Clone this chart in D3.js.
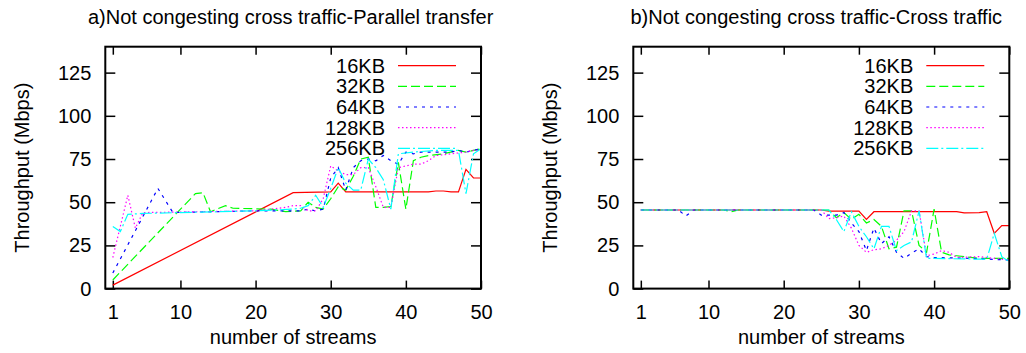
<!DOCTYPE html>
<html><head><meta charset="utf-8">
<script src="https://cdn.jsdelivr.net/npm/d3@7"></script>
<style>
body{margin:0;background:#fff}
svg{display:block}
text{font-family:"Liberation Sans",Arial,Helvetica,sans-serif;font-size:20px;fill:#000}
</style>
</head><body>
<svg id="c" width="1026" height="353"></svg>
<script>
// ---- data ----
const xTicks = [1, 10, 20, 30, 40, 50];
const yTicks = [0, 25, 50, 75, 100, 125];
const seriesNames = ["16KB", "32KB", "64KB", "128KB", "256KB"];
const titles = ["a)Not congesting cross traffic-Parallel transfer", "b)Not congesting cross traffic-Cross traffic"];
const xLabel = "number of streams";
const yLabel = "Throughput (Mbps)";

// panel a: Parallel transfer  ([streams, Mbps])
const a16 = [[1,2],[25,55.5],[30,56],[31,61],[32,56],[43,56],[44,56.5],[45,56.5],[46,56],[47,56],[48,69],[49,64],[50,64]];
const a32 = [[1,5],[12,55],[13,55.5],[14,44.5],[16,48],[17,46.5],[22,46],[24,44.5],[26,45],[27,50],[28,47],[29,46],[30,52],[31,59],[32,57],[33,65],[34,75],[35,76],[36,47],[37,47],[38,47.5],[39,73],[40,46],[41,74],[42,76],[43,77],[45,78],[47,80],[48,79],[49,80],[50,81]];
const a64 = [[1,9],[7,58],[9,44],[20,45],[26,45],[27,46],[28,45],[29,46],[30,64],[31,70],[32,57],[33,70],[34,74],[35,75],[36,74],[37,77],[38,74],[39,72],[40,79],[41,78],[42,79],[46,79],[47,80],[48,79],[49,80],[50,81]];
const a128 = [[1,18],[3,54],[4,35],[5,44],[20,45],[24,47],[25,48],[26,48],[27,45],[28,45],[29,52],[30,71],[31,68],[32,66],[33,66],[34,70],[35,70],[36,59],[37,47],[38,47],[39,70],[40,71],[41,72],[42,72],[43,74],[44,77],[46,78],[48,79],[49,80],[50,80]];
const a256 = [[1,36],[2,33],[3,43],[5,43.5],[20,45],[25,46],[26,46.5],[27,48],[28,54],[29,47],[30,58],[31,70],[32,61],[33,57],[34,57],[35,75],[36,70],[37,63],[38,46],[39,78],[41,79],[44,80],[47,80],[48,55],[49,78],[50,81]];

// panel b: Cross traffic
const b16 = [[1,45.5],[25,45.5],[26,44.8],[30,44.8],[31,40],[32,44.5],[43,44.5],[44,43.8],[46,44],[47,44.5],[48,32],[49,36.5],[50,36.5]];
const b32 = [[1,45.5],[12,45.5],[13,44.5],[14,45.5],[26,45.5],[27,41],[28,44],[29,40],[30,43],[31,38],[32,40],[33,36],[34,23],[35,24],[36,45],[37,45],[38,25],[39,21],[40,46],[41,21],[42,19.5],[43,19],[44,18.5],[46,17.5],[50,17.5]];
const b64 = [[1,45.5],[6,45.5],[7,42],[8,45.5],[24,45.5],[25,42.5],[27,42.5],[28,44],[29,38],[30,33],[31,22],[32,35],[33,26],[34,30],[35,21],[36,17.5],[37,20.5],[38,23],[39,18.5],[40,18],[45,17.5],[50,16.5]];
const b128 = [[1,45.5],[25,45.5],[26,40.5],[27,41],[28,42],[29,35],[30,25],[31,21],[32,22.5],[33,23],[34,25],[35,28],[36,33],[37,45],[38,45],[39,19],[40,20],[41,22],[42,21],[43,18],[46,18.5],[50,16.5]];
const b256 = [[1,45.5],[26,45.5],[27,40],[28,33],[29,44.5],[30,36],[31,30],[32,23],[33,36],[34,36],[35,22],[36,25],[37,27],[38,45],[39,17.5],[47,17],[48,32],[49,18.5],[50,15.5]];

// ---- styles ----
const colors = ["#ff0000", "#00ff00", "#0000ff", "#ff00ff", "#00ffff"];
const dashes = [null, "9,4", "3,5", "1.5,2.5", "12,3,2,3"];

const svg = d3.select("#c");

function panel(x0, x1, title, titleShift, series) {
  const x = d3.scaleLinear().domain([0, 50]).range([x0, x1]);
  const y = d3.scaleLinear().domain([0, 140]).range([288.6, 46.7]);
  const g = svg.append("g");

  // axes (ticks inward, mirrored)
  const ax = [
    [d3.axisBottom(x).tickValues(xTicks).tickSizeInner(-8).tickSizeOuter(0).tickPadding(16), `translate(0,${y(0)})`],
    [d3.axisTop(x).tickValues(xTicks).tickSizeInner(-8).tickSizeOuter(0).tickFormat(""), `translate(0,${y(140)})`],
    [d3.axisLeft(y).tickValues(yTicks).tickSizeInner(-10).tickSizeOuter(0).tickPadding(14), `translate(${x0},0)`],
    [d3.axisRight(y).tickValues(yTicks).tickSizeInner(-10).tickSizeOuter(0).tickFormat(""), `translate(${x1},0)`]
  ];
  ax.forEach(([a, t]) => {
    const ga = g.append("g").attr("transform", t).call(a);
    ga.select(".domain").remove();
    ga.selectAll(".tick line").attr("stroke", "#000").attr("stroke-width", 1.5);
    ga.selectAll(".tick text").attr("font-size", 20).attr("font-family", null).style("fill", "#000");
  });

  // data lines
  const line = d3.line().x(d => x(d[0])).y(d => y(d[1]));
  series.forEach((s, i) => {
    g.append("path").datum(s).attr("d", line)
      .attr("fill", "none").attr("stroke", colors[i]).attr("stroke-width", 1.2)
      .attr("stroke-dasharray", dashes[i]);
  });

  // frame
  g.append("rect").attr("x", x0).attr("y", y(140)).attr("width", x1 - x0).attr("height", y(0) - y(140))
    .attr("fill", "none").attr("stroke", "#000").attr("stroke-width", 2);

  // legend
  seriesNames.forEach((n, i) => {
    const ly = 65.7 + i * 20.65;
    g.append("text").attr("x", x1 - 96).attr("y", ly + 7).attr("text-anchor", "end").text(n);
    g.append("line").attr("x1", x1 - 83).attr("x2", x1 - 25).attr("y1", ly).attr("y2", ly)
      .attr("stroke", colors[i]).attr("stroke-width", 1.2).attr("stroke-dasharray", dashes[i]);
  });

  // titles
  g.append("text").attr("x", (x0 + x1) / 2 + titleShift).attr("y", 24).attr("text-anchor", "middle").text(title);
  g.append("text").attr("x", (x0 + x1) / 2).attr("y", 344).attr("text-anchor", "middle").text(xLabel);
  g.append("text").attr("transform", `translate(${x0 - 83},${(y(0) + y(140)) / 2}) rotate(-90)`)
    .attr("text-anchor", "middle").attr("dominant-baseline", "central").text(yLabel);
}

panel(105.3, 481, titles[0], -2.5, [a16, a32, a64, a128, a256]);
panel(633.3, 1009.3, titles[1], -5, [b16, b32, b64, b128, b256]);
</script>
</body></html>
